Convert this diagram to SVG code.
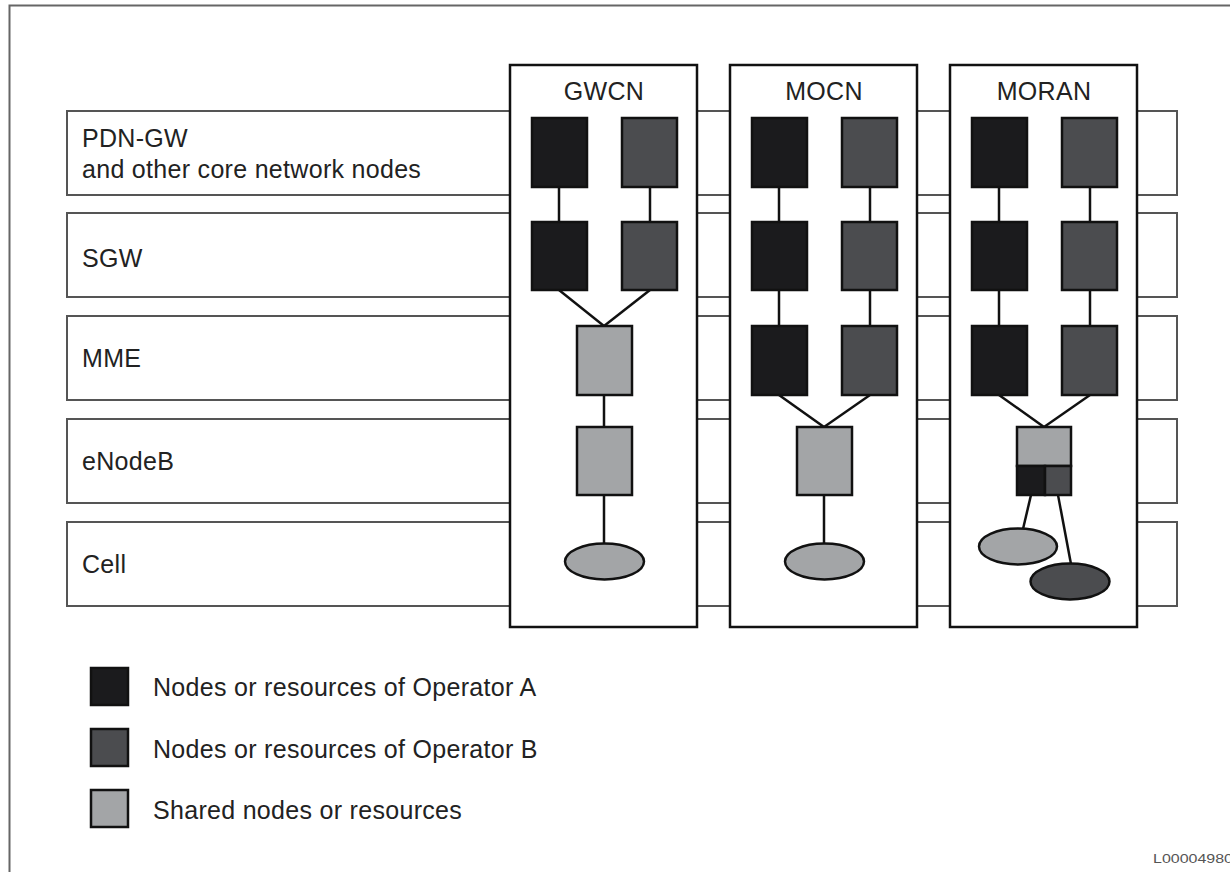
<svg xmlns="http://www.w3.org/2000/svg" width="1230" height="872" viewBox="0 0 1230 872">
<style>
text{font-family:"Liberation Sans",Arial,sans-serif;fill:#222;}
.lbl{font-size:25px;letter-spacing:0.3px;}
.ttl{font-size:25px;letter-spacing:0.3px;text-anchor:middle;}
.row{fill:#fff;stroke:#555;stroke-width:2;}
.col{fill:#fff;stroke:#111;stroke-width:2.5;}
.a{fill:#1b1b1d;stroke:#111;stroke-width:2.5;}
.b{fill:#4b4c4f;stroke:#111;stroke-width:2.5;}
.s{fill:#a3a5a7;stroke:#111;stroke-width:2.5;}
.ln{stroke:#111;stroke-width:2.5;fill:none;}
</style>
<rect x="0" y="0" width="1230" height="872" fill="#fff"/>
<rect x="9.5" y="5.5" width="1240" height="880" fill="none" stroke="#666" stroke-width="2"/>
<g id="layers">
<g id="layer-pdngw"><rect class="row" x="67" y="111" width="1110" height="84"/><text class="lbl" x="82" y="147">PDN-GW</text><text class="lbl" x="82" y="178">and other core network nodes</text></g>
<g id="layer-sgw"><rect class="row" x="67" y="213" width="1110" height="84"/><text class="lbl" x="82" y="267">SGW</text></g>
<g id="layer-mme"><rect class="row" x="67" y="316" width="1110" height="84"/><text class="lbl" x="82" y="367">MME</text></g>
<g id="layer-enodeb"><rect class="row" x="67" y="419" width="1110" height="84"/><text class="lbl" x="82" y="470">eNodeB</text></g>
<g id="layer-cell"><rect class="row" x="67" y="522" width="1110" height="84"/><text class="lbl" x="82" y="573">Cell</text></g>
</g>
<g id="col-gwcn"><rect class="col" x="510" y="65" width="187" height="562"/><text class="ttl" x="604" y="100">GWCN</text></g>
<g id="col-mocn"><rect class="col" x="730" y="65" width="187" height="562"/><text class="ttl" x="824" y="100">MOCN</text></g>
<g id="col-moran"><rect class="col" x="950" y="65" width="187" height="562"/><text class="ttl" x="1044" y="100">MORAN</text></g>
<g id="connectors">
<line class="ln" x1="559" y1="187" x2="559" y2="222"/>
<line class="ln" x1="650" y1="187" x2="650" y2="222"/>
<line class="ln" x1="559" y1="290" x2="604" y2="326"/>
<line class="ln" x1="650" y1="290" x2="604" y2="326"/>
<line class="ln" x1="604" y1="395" x2="604" y2="427"/>
<line class="ln" x1="604" y1="495" x2="604" y2="543"/>
<line class="ln" x1="779" y1="187" x2="779" y2="222"/>
<line class="ln" x1="870" y1="187" x2="870" y2="222"/>
<line class="ln" x1="779" y1="290" x2="779" y2="326"/>
<line class="ln" x1="870" y1="290" x2="870" y2="326"/>
<line class="ln" x1="779" y1="395" x2="824" y2="427"/>
<line class="ln" x1="870" y1="395" x2="824" y2="427"/>
<line class="ln" x1="824" y1="495" x2="824" y2="543"/>
<line class="ln" x1="999" y1="187" x2="999" y2="222"/>
<line class="ln" x1="1090" y1="187" x2="1090" y2="222"/>
<line class="ln" x1="999" y1="290" x2="999" y2="326"/>
<line class="ln" x1="1090" y1="290" x2="1090" y2="326"/>
<line class="ln" x1="999" y1="395" x2="1044" y2="427"/>
<line class="ln" x1="1090" y1="395" x2="1044" y2="427"/>
<line class="ln" x1="1031" y1="495" x2="1023" y2="529"/>
<line class="ln" x1="1058" y1="495" x2="1071" y2="564"/>
</g>
<g id="gwcn-nodes">
<rect id="gwcn-pdn-a" class="a" x="532" y="118" width="55" height="69"/>
<rect id="gwcn-pdn-b" class="b" x="622" y="118" width="55" height="69"/>
<rect id="gwcn-sgw-a" class="a" x="532" y="222" width="55" height="68"/>
<rect id="gwcn-sgw-b" class="b" x="622" y="222" width="55" height="68"/>
<rect id="gwcn-mme" class="s" x="577" y="326" width="55" height="69"/>
<rect id="gwcn-enb" class="s" x="577" y="427" width="55" height="68"/>
<ellipse id="gwcn-cell" class="s" cx="604.5" cy="561.5" rx="39.5" ry="18"/>
</g>
<g id="mocn-nodes">
<rect id="mocn-pdn-a" class="a" x="752" y="118" width="55" height="69"/>
<rect id="mocn-pdn-b" class="b" x="842" y="118" width="55" height="69"/>
<rect id="mocn-sgw-a" class="a" x="752" y="222" width="55" height="68"/>
<rect id="mocn-sgw-b" class="b" x="842" y="222" width="55" height="68"/>
<rect id="mocn-mme-a" class="a" x="752" y="326" width="55" height="69"/>
<rect id="mocn-mme-b" class="b" x="842" y="326" width="55" height="69"/>
<rect id="mocn-enb" class="s" x="797" y="427" width="55" height="68"/>
<ellipse id="mocn-cell" class="s" cx="824.5" cy="561.5" rx="39.5" ry="18"/>
</g>
<g id="moran-nodes">
<rect id="moran-pdn-a" class="a" x="972" y="118" width="55" height="69"/>
<rect id="moran-pdn-b" class="b" x="1062" y="118" width="55" height="69"/>
<rect id="moran-sgw-a" class="a" x="972" y="222" width="55" height="68"/>
<rect id="moran-sgw-b" class="b" x="1062" y="222" width="55" height="68"/>
<rect id="moran-mme-a" class="a" x="972" y="326" width="55" height="69"/>
<rect id="moran-mme-b" class="b" x="1062" y="326" width="55" height="69"/>
<g id="moran-enb">
<rect class="s" x="1017" y="427" width="54" height="39"/>
<rect class="a" x="1017" y="466" width="28" height="29"/>
<rect class="b" x="1045" y="466" width="26" height="29"/>
</g>
<ellipse id="moran-cell-a" class="s" cx="1018" cy="546.5" rx="39" ry="18"/>
<ellipse id="moran-cell-b" class="b" cx="1070" cy="581.5" rx="39.5" ry="18"/>
</g>
<g id="legend">
<g id="legend-a"><rect class="a" x="91" y="668" width="37" height="37"/><text class="lbl" x="153" y="696">Nodes or resources of Operator A</text></g>
<g id="legend-b"><rect class="b" x="91" y="729" width="37" height="37"/><text class="lbl" x="153" y="758">Nodes or resources of Operator B</text></g>
<g id="legend-s"><rect class="s" x="91" y="790" width="37" height="37"/><text class="lbl" x="153" y="819">Shared nodes or resources</text></g>
</g>
<text x="1153" y="863" font-size="13" style="fill:#555" textLength="80" lengthAdjust="spacingAndGlyphs">L00004980</text>
</svg>
